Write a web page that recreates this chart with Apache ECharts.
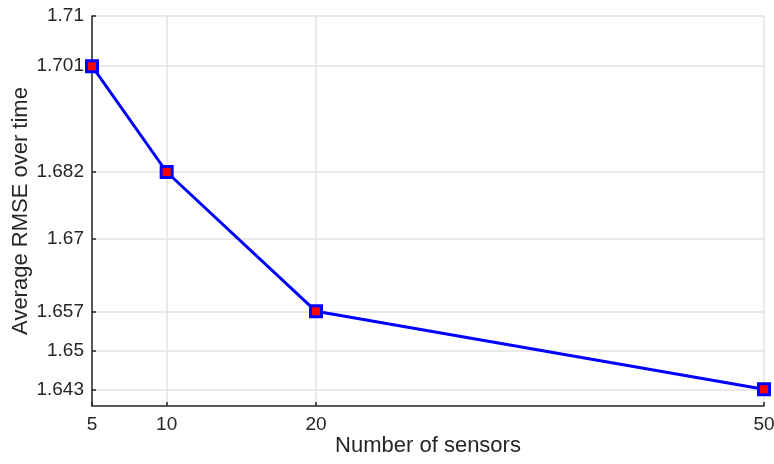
<!DOCTYPE html>
<html>
<head>
<meta charset="utf-8">
<script src="https://cdn.jsdelivr.net/npm/echarts@6/dist/echarts.min.js"></script>
<style>html,body{margin:0;padding:0;background:#fff;}#chart{width:774px;height:464px;}</style>
</head>
<body>
<div id="chart"></div>
<script>
const sensors = [5, 10, 20, 50];
const rmse = [1.701, 1.682, 1.657, 1.643];
const xTicks = [5, 10, 20, 50];
const yTicks = [1.643, 1.65, 1.657, 1.67, 1.682, 1.701, 1.71];
const xTitle = 'Number of sensors';
const yTitle = 'Average RMSE over time';

const font = 'Liberation Sans, Arial, Helvetica, sans-serif';
const axisColor = '#262626';
const gridColor = '#e3e3e3';

const chart = echarts.init(document.getElementById('chart'));
chart.setOption({
  animation: false,
  grid: { left: 92, right: 10, top: 16, bottom: 58, containLabel: false, outerBoundsMode: 'none' },
  xAxis: {
    type: 'value', min: 5, max: 50,
    name: xTitle, nameLocation: 'middle', nameGap: 29, nameMoveOverlap: false,
    nameTextStyle: { fontFamily: font, fontSize: 22, color: axisColor },
    axisLine: { show: true, lineStyle: { color: axisColor, width: 1.5 } },
    axisTick: { show: true, inside: true, length: 4, customValues: xTicks, lineStyle: { color: axisColor, width: 1.5 } },
    axisLabel: { customValues: xTicks, margin: 9, fontFamily: font, fontSize: 19, color: axisColor },
    splitLine: { show: true, lineStyle: { color: gridColor, width: 1.5 } }
  },
  yAxis: {
    type: 'value', min: 1.64, max: 1.71,
    name: yTitle, nameLocation: 'middle', nameGap: 60, nameMoveOverlap: false,
    nameTextStyle: { fontFamily: font, fontSize: 22, color: axisColor },
    axisLine: { show: true, lineStyle: { color: axisColor, width: 1.5 } },
    axisTick: { show: true, inside: true, length: 4, customValues: yTicks, lineStyle: { color: axisColor, width: 1.5 } },
    axisLabel: { customValues: yTicks, margin: 8, fontFamily: font, fontSize: 19, color: axisColor,
      formatter: v => String(+v.toFixed(3)) },
    splitLine: { show: true, lineStyle: { color: gridColor, width: 1.5 } }
  },
  series: [{
    type: 'line',
    data: sensors.map((s, i) => [s, rmse[i]]),
    lineStyle: { color: '#0000ff', width: 3 },
    symbol: 'rect', symbolSize: 11,
    itemStyle: { color: '#ff0000', borderColor: '#0000ff', borderWidth: 3 },
    z: 5
  }]
});
</script>
</body>
</html>
